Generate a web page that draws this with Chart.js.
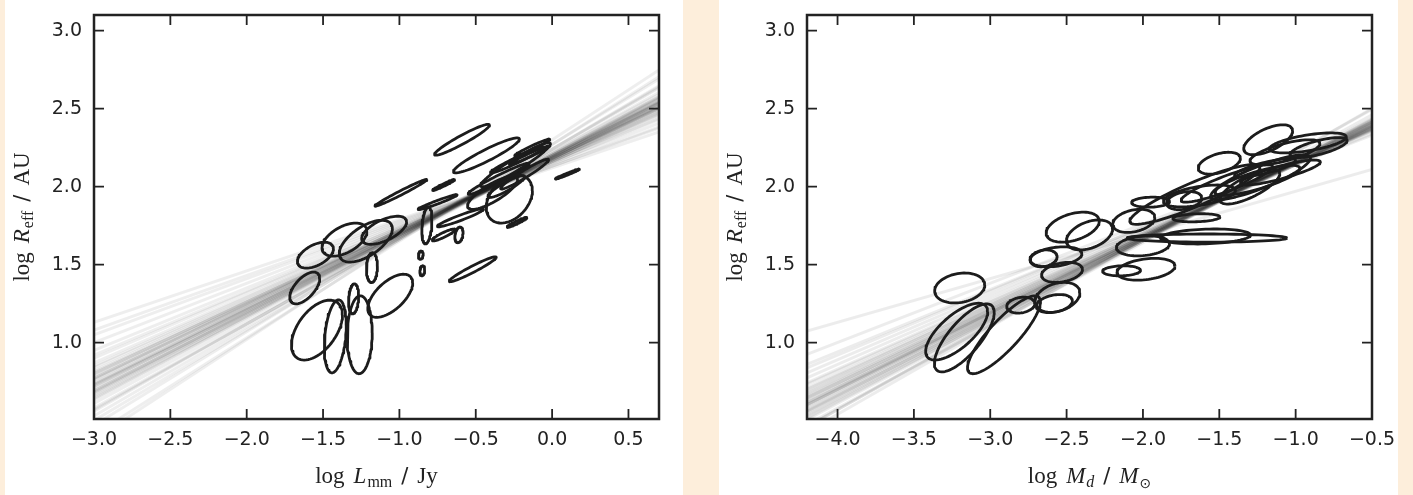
<!DOCTYPE html>
<html>
<head>
<meta charset="utf-8">
<script src="https://cdn.jsdelivr.net/npm/chart.js@4.4.1/dist/chart.umd.min.js"></script>
<style>
  html, body { margin: 0; padding: 0; background: #fff; }
  body { position: relative; width: 1413px; height: 495px; overflow: hidden; }
  .strip { position: absolute; top: 0; height: 495px; background: #fdeedb; }
  .panel { position: absolute; top: 0; height: 495px; }
</style>
</head>
<body>
<div class="strip" style="left:0;width:5px"></div>
<div class="strip" style="left:683px;width:36px"></div>
<div class="strip" style="left:1398px;width:15px"></div>
<div class="panel" style="left:5px;width:678px"><canvas id="lum-chart"></canvas></div>
<div class="panel" style="left:719px;width:679px"><canvas id="mass-chart"></canvas></div>
<script>
// axis ranges and tick positions
const radiusRange = [0.51, 3.1];
const radiusTicks = [1.0, 1.5, 2.0, 2.5, 3.0];
const lumRange = [-3.0, 0.7];
const lumTicks = [-3.0, -2.5, -2.0, -1.5, -1.0, -0.5, 0.0, 0.5];
const massRange = [-4.2, -0.5];
const massTicks = [-4.0, -3.5, -3.0, -2.5, -2.0, -1.5, -1.0, -0.5];

// posterior contours per disc: [centre x, centre y, half width x, half height y, tilt correlation]
const lumContours = [
    [-0.59, 2.30, 0.180, 0.099, 0.95],
    [-0.43, 2.20, 0.216, 0.112, 0.93],
    [-0.99, 1.96, 0.170, 0.086, 0.985],
    [-0.71, 2.01, 0.072, 0.035, 0.97],
    [-0.75, 1.90, 0.128, 0.048, 0.97],
    [-0.82, 1.75, 0.033, 0.118, 0.3],
    [-0.71, 1.69, 0.075, 0.038, 0.9],
    [-0.60, 1.80, 0.151, 0.058, 0.95],
    [-0.28, 1.92, 0.151, 0.154, 0.35],
    [-0.39, 1.96, 0.164, 0.106, 0.8],
    [-0.24, 2.14, 0.229, 0.141, 0.95],
    [-0.23, 2.17, 0.174, 0.083, 0.97],
    [-0.18, 2.08, 0.157, 0.096, 0.96],
    [-0.35, 2.05, 0.200, 0.100, 0.97],
    [-0.15, 2.20, 0.130, 0.060, 0.98],
    [-0.30, 2.00, 0.120, 0.070, 0.9],
    [0.10, 2.08, 0.079, 0.032, 0.98],
    [-0.23, 1.77, 0.065, 0.032, 0.95],
    [-0.52, 1.47, 0.154, 0.080, 0.96],
    [-1.55, 1.56, 0.118, 0.083, 0.5],
    [-1.36, 1.66, 0.147, 0.106, 0.5],
    [-1.22, 1.65, 0.174, 0.134, 0.6],
    [-1.10, 1.72, 0.147, 0.090, 0.6],
    [-1.18, 1.48, 0.036, 0.096, 0.1],
    [-1.62, 1.35, 0.098, 0.102, 0.6],
    [-1.54, 1.08, 0.167, 0.192, 0.5],
    [-1.42, 1.04, 0.072, 0.234, 0.3],
    [-1.26, 1.05, 0.082, 0.250, 0.05],
    [-1.30, 1.28, 0.033, 0.096, 0.2],
    [-1.06, 1.30, 0.147, 0.138, 0.6],
    [-0.86, 1.56, 0.016, 0.026, 0.2],
    [-0.85, 1.46, 0.016, 0.032, 0.2],
    [-0.61, 1.69, 0.027, 0.050, 0.3],
    [-0.13, 2.25, 0.115, 0.054, 0.97],
];

const massContours = [
    [-1.18, 2.30, 0.160, 0.096, 0.6],
    [-1.50, 2.15, 0.138, 0.070, 0.45],
    [-0.92, 2.28, 0.252, 0.064, 0.6],
    [-0.85, 2.25, 0.187, 0.064, 0.7],
    [-1.07, 2.22, 0.229, 0.080, 0.7],
    [-1.66, 1.95, 0.426, 0.192, 0.9],
    [-1.23, 2.06, 0.327, 0.144, 0.85],
    [-1.25, 2.04, 0.278, 0.096, 0.8],
    [-1.30, 2.00, 0.196, 0.112, 0.75],
    [-1.10, 2.09, 0.262, 0.080, 0.85],
    [-1.45, 2.02, 0.300, 0.120, 0.9],
    [-1.20, 2.12, 0.200, 0.060, 0.8],
    [-1.65, 1.80, 0.154, 0.026, 0.2],
    [-1.95, 1.90, 0.124, 0.032, 0.1],
    [-1.73, 1.91, 0.115, 0.058, 0.3],
    [-2.06, 1.78, 0.138, 0.074, 0.3],
    [-2.46, 1.74, 0.174, 0.096, 0.4],
    [-2.35, 1.69, 0.151, 0.096, 0.4],
    [-2.57, 1.55, 0.170, 0.064, 0.3],
    [-2.00, 1.62, 0.174, 0.064, 0.2],
    [-1.58, 1.67, 0.524, 0.026, 0.0],
    [-1.59, 1.68, 0.295, 0.048, 0.2],
    [-2.14, 1.46, 0.124, 0.032, 0.1],
    [-1.98, 1.47, 0.190, 0.070, 0.3],
    [-3.20, 1.35, 0.164, 0.096, 0.2],
    [-3.22, 1.07, 0.203, 0.182, 0.7],
    [-3.17, 1.03, 0.196, 0.218, 0.75],
    [-2.91, 1.05, 0.239, 0.250, 0.85],
    [-2.80, 1.24, 0.092, 0.051, 0.2],
    [-2.56, 1.29, 0.147, 0.096, 0.3],
    [-2.58, 1.25, 0.118, 0.058, 0.3],
    [-2.65, 1.54, 0.088, 0.054, 0.2],
    [-2.53, 1.45, 0.134, 0.064, 0.3],
    [-1.63, 1.94, 0.236, 0.070, 0.5],
];

// regression draws: slope and value at the pivot (x = -1 for luminosity, x = -2 for mass)
const lumPivotX = -1;
const lumSlopes = [0.33, 0.64, 0.36, 0.60, 0.40, 0.56, 0.44, 0.52, 0.47, 0.49, 0.50, 0.48,
    0.46, 0.51, 0.45, 0.53, 0.42, 0.55, 0.38, 0.58, 0.47, 0.49, 0.48, 0.50, 0.46, 0.52,
    0.44, 0.54, 0.43, 0.57, 0.41, 0.62, 0.35, 0.48, 0.49, 0.47, 0.51, 0.45, 0.50, 0.53,
    0.48, 0.49, 0.50, 0.47, 0.51, 0.46];
const lumPivots = [1.79, 1.66, 1.77, 1.67, 1.75, 1.68, 1.73, 1.69, 1.71, 1.70, 1.69, 1.70,
    1.72, 1.68, 1.72, 1.67, 1.74, 1.67, 1.76, 1.66, 1.70, 1.71, 1.69, 1.70, 1.71, 1.68,
    1.72, 1.66, 1.73, 1.67, 1.74, 1.65, 1.78, 1.72, 1.69, 1.72, 1.70, 1.71, 1.68, 1.69,
    1.70, 1.70, 1.69, 1.71, 1.69, 1.72];

const massPivotX = -2;
const massSlopes = [0.48, 0.47, 0.49, 0.50, 0.46, 0.45, 0.51, 0.52, 0.44, 0.43, 0.53, 0.42,
    0.54, 0.41, 0.55, 0.40, 0.48, 0.49, 0.47, 0.50, 0.46, 0.51, 0.45, 0.52, 0.44, 0.48,
    0.49, 0.47, 0.50, 0.46, 0.38, 0.56, 0.48, 0.49, 0.47, 0.50, 0.28];
const massPivots = [1.67, 1.68, 1.66, 1.66, 1.69, 1.70, 1.65, 1.65, 1.71, 1.72, 1.64, 1.73,
    1.65, 1.74, 1.67, 1.74, 1.68, 1.67, 1.67, 1.67, 1.68, 1.66, 1.69, 1.66, 1.70, 1.66,
    1.68, 1.69, 1.65, 1.70, 1.76, 1.66, 1.67, 1.68, 1.68, 1.66, 1.69];

const INK = '#222';
const TICK_LEN = 10;
const tickFont = { family: 'DejaVu Sans', size: 19 };
const serif = 'Liberation Serif';

function contourDataset(c) {
    const [cx, cy, sx, sy, rho] = c;
    const phase = Math.acos(rho);
    const pts = [];
    for (let i = 0; i <= 72; i++) {
        const t = (i / 72) * Math.PI * 2;
        pts.push({ x: cx + sx * Math.cos(t), y: cy + sy * Math.cos(t - phase) });
    }
    return {
        data: pts,
        showLine: true,
        borderColor: '#1c1c1c',
        borderWidth: 2.8,
        borderJoinStyle: 'round',
        pointRadius: 0,
        order: 1,
    };
}

function fitDataset(slope, pivot, pivotX, range, alpha) {
    return {
        data: range.map((x) => ({ x, y: pivot + slope * (x - pivotX) })),
        showLine: true,
        borderColor: `rgba(0, 0, 0, ${alpha})`,
        borderWidth: 3,
        pointRadius: 0,
        clip: 0,
        order: 2,
    };
}

function drawRuns(ctx, runs, x, y, angle) {
    ctx.save();
    ctx.translate(x, y);
    ctx.rotate(angle);
    const widths = runs.map((r) => {
        ctx.font = r.font;
        return ctx.measureText(r.text).width;
    });
    const total = widths.reduce((s, w, i) => s + w + (runs[i].gap || 0), 0);
    let cur = -total / 2;
    ctx.fillStyle = INK;
    ctx.textBaseline = 'alphabetic';
    runs.forEach((r, i) => {
        ctx.font = r.font;
        ctx.fillText(r.text, cur, r.dy || 0);
        cur += widths[i] + (r.gap || 0);
    });
    ctx.restore();
}

// matplotlib-style frame: inward ticks on all four sides plus the axis titles
function framePlugin(xTitle, yTitle, yTitleX) {
    return {
        id: 'frame',
        afterDraw(chart) {
            const { ctx, chartArea: a, scales: { x, y } } = chart;
            ctx.save();
            ctx.strokeStyle = INK;
            ctx.lineWidth = 1.8;
            ctx.beginPath();
            x.ticks.forEach((t) => {
                const px = x.getPixelForValue(t.value);
                ctx.moveTo(px, a.bottom);
                ctx.lineTo(px, a.bottom - TICK_LEN);
                ctx.moveTo(px, a.top);
                ctx.lineTo(px, a.top + TICK_LEN);
            });
            y.ticks.forEach((t) => {
                const py = y.getPixelForValue(t.value);
                ctx.moveTo(a.left, py);
                ctx.lineTo(a.left + TICK_LEN, py);
                ctx.moveTo(a.right, py);
                ctx.lineTo(a.right - TICK_LEN, py);
            });
            ctx.stroke();
            ctx.lineWidth = 2.5;
            ctx.strokeRect(a.left, a.top, a.right - a.left, a.bottom - a.top);
            ctx.restore();

            drawRuns(ctx, xTitle, (a.left + a.right) / 2, 483, 0);
            drawRuns(ctx, yTitle, yTitleX, (a.top + a.bottom) / 2, -Math.PI / 2);
        },
    };
}

const fmt = (v) => v.toFixed(1).replace('-', '\u2212');

function buildScales(range, ticks, yWidth) {
    return {
        x: {
            type: 'linear',
            min: range[0],
            max: range[1],
            afterBuildTicks: (s) => { s.ticks = ticks.map((v) => ({ value: v })); },
            afterFit: (s) => {
                s.height = 76;
                s.paddingLeft = 0;
                s.paddingRight = 0;
            },
            grid: { display: false, drawTicks: false },
            border: { display: false },
            ticks: { padding: 10, color: INK, font: tickFont, callback: fmt, maxRotation: 0, autoSkip: false },
        },
        y: {
            type: 'linear',
            min: radiusRange[0],
            max: radiusRange[1],
            afterBuildTicks: (s) => { s.ticks = radiusTicks.map((v) => ({ value: v })); },
            afterFit: (s) => {
                s.width = yWidth;
                s.paddingTop = 0;
                s.paddingBottom = 0;
            },
            grid: { display: false, drawTicks: false },
            border: { display: false },
            ticks: { padding: 12, color: INK, font: tickFont, callback: fmt, autoSkip: false },
        },
    };
}

const yTitleRuns = [
    { text: 'log', font: `23px "${serif}"`, gap: 9 },
    { text: 'R', font: `italic 23px "${serif}"`, gap: 1 },
    { text: 'eff', font: `16px "${serif}"`, dy: 4, gap: 9 },
    { text: '/', font: '21px "DejaVu Sans"', gap: 9 },
    { text: 'AU', font: `23px "${serif}"` },
];

const lumTitleRuns = [
    { text: 'log', font: `23px "${serif}"`, gap: 9 },
    { text: 'L', font: `italic 23px "${serif}"`, gap: 1 },
    { text: 'mm', font: `16px "${serif}"`, dy: 4, gap: 9 },
    { text: '/', font: '21px "DejaVu Sans"', gap: 9 },
    { text: 'Jy', font: `23px "${serif}"` },
];

const massTitleRuns = [
    { text: 'log', font: `23px "${serif}"`, gap: 9 },
    { text: 'M', font: `italic 23px "${serif}"`, gap: 1 },
    { text: 'd', font: `italic 16px "${serif}"`, dy: 4, gap: 9 },
    { text: '/', font: '21px "DejaVu Sans"', gap: 9 },
    { text: 'M', font: `italic 23px "${serif}"`, gap: 1 },
    { text: '\u2299', font: '14px "DejaVu Sans"', dy: 5 },
];

function makeChart(canvasId, contours, slopes, pivots, pivotX, range, ticks, yWidth, rightPad, xTitle, yTitleX, alpha) {
    const datasets = contours.map(contourDataset)
        .concat(slopes.map((s, i) => fitDataset(s, pivots[i], pivotX, range, alpha)));
    return new Chart(document.getElementById(canvasId), {
        type: 'scatter',
        data: { datasets },
        options: {
            responsive: true,
            maintainAspectRatio: false,
            animation: false,
            events: [],
            layout: { padding: { top: 15, right: rightPad, bottom: 0, left: 0 } },
            plugins: { legend: { display: false }, tooltip: { enabled: false } },
            scales: buildScales(range, ticks, yWidth),
        },
        plugins: [framePlugin(xTitle, yTitleRuns, yTitleX)],
    });
}

makeChart('lum-chart', lumContours, lumSlopes, lumPivots, lumPivotX, lumRange, lumTicks, 89, 24, lumTitleRuns, 23.5, 0.065);
makeChart('mass-chart', massContours, massSlopes, massPivots, massPivotX, massRange, massTicks, 88, 26, massTitleRuns, 22.5, 0.075);
</script>
</body>
</html>
